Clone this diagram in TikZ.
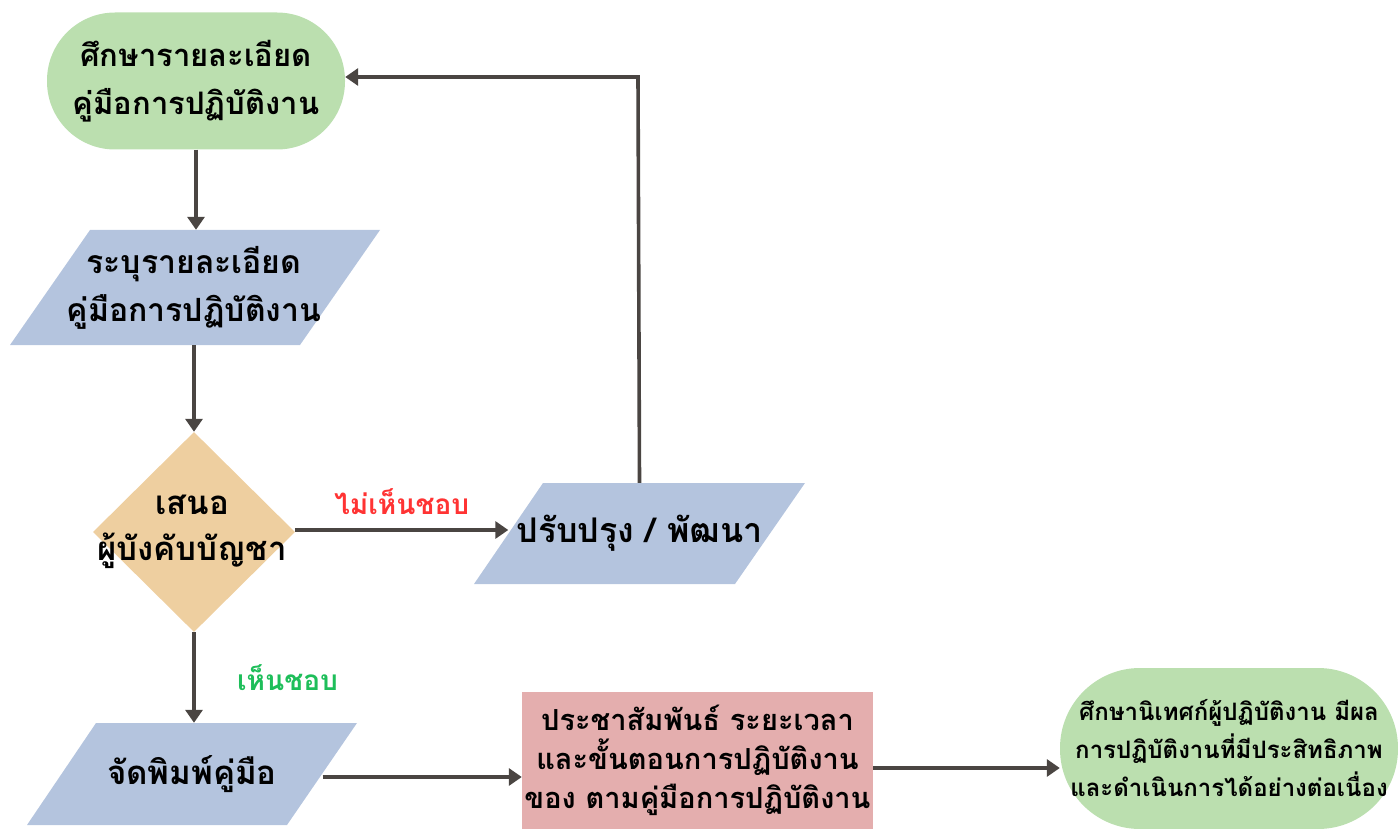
\documentclass[tikz,border=0pt]{standalone}
\usepackage{fontspec}
\newfontfamily\thai[Script=Thai]{Loma}
\usetikzlibrary{arrows.meta,shapes.geometric}
\definecolor{cgreen}{RGB}{187,223,175}
\definecolor{cblue}{RGB}{180,196,222}
\definecolor{ctan}{RGB}{238,207,160}
\definecolor{cpink}{RGB}{228,174,174}
\definecolor{carrow}{RGB}{74,69,66}
\definecolor{cred}{RGB}{255,51,51}
\definecolor{cok}{RGB}{30,190,90}
\newcommand{\fs}[2]{\thai\bfseries\fontsize{#1}{#2}\selectfont}
\tikzset{
  txt/.style={font=\fs{31}{48}, align=center, text=black},
  stadium/.style={txt, fill=cgreen, rounded corners=#1, inner sep=0pt},
  pbox/.style={txt, inner sep=0pt},
  conn/.style={draw=carrow, line width=3.6pt, -{Triangle[length=13pt,width=17pt]}},
  lbl/.style={font=\fs{28}{32}}
}
\begin{document}
\begin{tikzpicture}[x=1pt,y=-1pt]
\useasboundingbox (0,0) rectangle (1398,829);
% top stadium
\node[stadium=68pt, minimum width=298pt, minimum height=137pt] (s1) at (196,81) {ศึกษารายละเอียด\\คู่มือการปฏิบัติงาน};
% parallelogram 1
\fill[cblue] (90,230) -- (380,230) -- (300,345) -- (10,345) -- cycle;
\node[pbox, font=\fs{32}{48}, minimum width=250pt, minimum height=115pt] (p1) at (194,287.5) {ระบุรายละเอียด\\คู่มือการปฏิบัติงาน};
% diamond
\node[diamond, fill=ctan, inner sep=0pt, minimum width=202pt, minimum height=200pt, aspect=1] (d) at (194,532) {};
\node[txt, font=\fs{33}{46}] at (192,532) {เสนอ\\ผู้บังคับบัญชา};
% parallelogram 2
\fill[cblue] (543,483) -- (805,483) -- (735,584) -- (474,584) -- cycle;
\node[pbox, font=\fs{34}{40}, minimum width=262pt, minimum height=101pt] (p2) at (639.5,533.5) {ปรับปรุง / พัฒนา};
% parallelogram 3
\fill[cblue] (96,723) -- (357,723) -- (287,825) -- (27,825) -- cycle;
\node[pbox, font=\fs{33}{40}, minimum width=261pt, minimum height=102pt] (p3) at (192,774) {จัดพิมพ์คู่มือ};
% pink box
\node[txt, fill=cpink, font=\fs{29}{39}, minimum width=351pt, minimum height=137pt, inner sep=0pt] (r) at (697.5,760.5) {ประชาสัมพันธ์ ระยะเวลา\\และขั้นตอนการปฏิบัติงาน\\ของ ตามคู่มือการปฏิบัติงาน};
% bottom stadium
\node[stadium=80pt, font=\fs{24}{38}, minimum width=338pt, minimum height=161pt] (s2) at (1229,748.5) {ศึกษานิเทศก์ผู้ปฏิบัติงาน มีผล\\การปฏิบัติงานที่มีประสิทธิภาพ\\และดำเนินการได้อย่างต่อเนื่อง};
% connectors
\coordinate (c1) at (638,77);
\draw[conn] (s1.south) -- (s1.south |- p1.north);
\draw[conn] (p1.south) -- (d.north);
\draw[conn] ([yshift=2pt]d.east) -- ([yshift=2pt]d.east -| p2.west) node[midway, above=10pt, lbl, text=cred] {ไม่เห็นชอบ};
\draw[conn] (p2.north) -- (c1) -- (c1 -| s1.east);
\draw[conn] (d.south) -- (d.south |- p3.north) node[midway, right=38pt, lbl, text=cok] {เห็นชอบ};
\draw[conn] ([yshift=-3pt]p3.east) -- ([yshift=-3pt]p3.east -| r.west);
\draw[conn] ([yshift=-7.5pt]r.east) -- ([yshift=-7.5pt]r.east -| s2.west);
\end{tikzpicture}
\end{document}
